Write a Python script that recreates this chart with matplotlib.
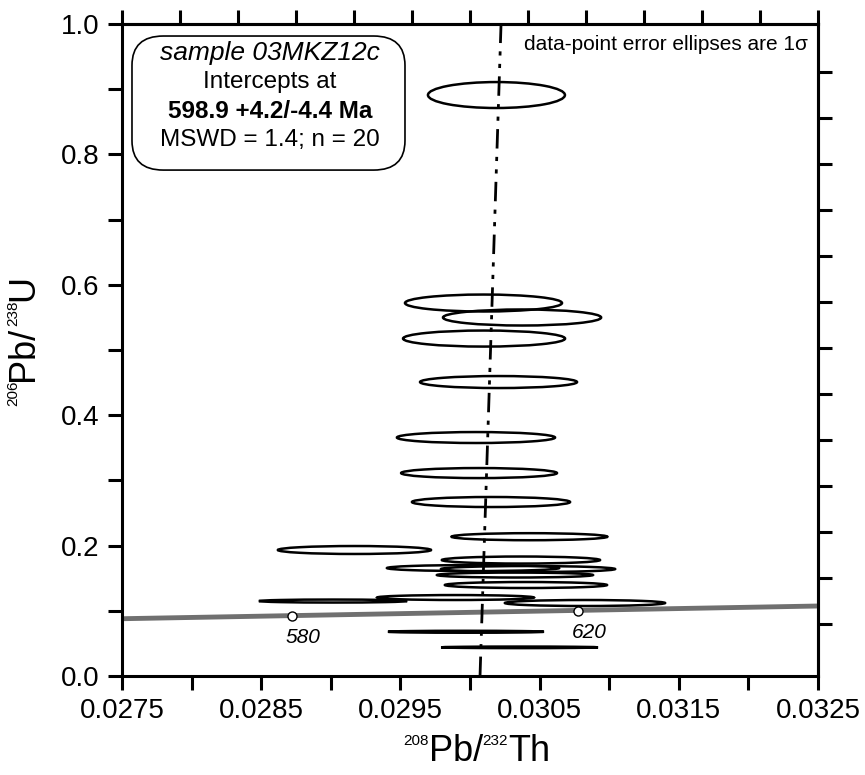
import numpy as np
import matplotlib
matplotlib.use('Agg')
import matplotlib.pyplot as plt
from matplotlib.patches import Ellipse, FancyBboxPatch

plt.rcParams['font.family'] = ['Liberation Sans', 'DejaVu Sans']

# data-point ellipses: centre (Th ratio, U ratio) and 1 sigma half-axes
th_ratio = [0.030190, 0.030097, 0.030374, 0.030101, 0.030205, 0.030043, 0.030065,
            0.030151, 0.030427, 0.029170, 0.030366, 0.030022, 0.030417, 0.030323,
            0.030402, 0.029896, 0.029016, 0.030826, 0.029971, 0.030356]
u_ratio = [0.8911, 0.5721, 0.5499, 0.5176, 0.4509, 0.3658, 0.3113,
           0.2669, 0.2137, 0.1933, 0.1779, 0.1656, 0.1641, 0.1549,
           0.1396, 0.1204, 0.1150, 0.1120, 0.0679, 0.0440]
th_err = [0.000492, 0.000564, 0.000568, 0.000582, 0.000564, 0.000568, 0.000560,
          0.000568, 0.000560, 0.000550, 0.000568, 0.000618, 0.000625, 0.000560,
          0.000582, 0.000564, 0.000532, 0.000575, 0.000560, 0.000564]
u_err = [0.0199, 0.0130, 0.0123, 0.0123, 0.0092, 0.0084, 0.0077,
         0.0077, 0.0054, 0.0061, 0.0054, 0.0046, 0.0046, 0.0038,
         0.0046, 0.0038, 0.0023, 0.0046, 0.0015, 0.0012]

# concordia curve and age marks
conc_x = [0.0275, 0.0325]
conc_y = [0.0879, 0.1074]
age_labels = ['580', '620']
age_x = [0.028721, 0.030774]
age_y = [0.0925, 0.1002]

# intercept line
icpt_x = [0.030072, 0.030223]
icpt_y = [0.0, 1.0]

fig = plt.figure(figsize=(8.65, 7.75), dpi=100)
ax = fig.add_axes([0.1410, 0.1277, 0.8047, 0.8413])
ax.set_xlim(0.0275, 0.0325)
ax.set_ylim(0.0, 1.0)

ax.plot(conc_x, conc_y, color='#707070', lw=3.5, zorder=2, solid_capstyle='butt')
ax.plot(age_x, age_y, 'o', ms=6.5, mfc='white', mec='black', mew=1.0, zorder=5)
for lab, x, y in zip(age_labels, age_x, age_y):
    ax.text(x + 0.00008, y - 0.034, lab, fontsize=15, style='italic',
            ha='center', va='center')

for x, y, w, h in zip(th_ratio, u_ratio, th_err, u_err):
    ax.add_patch(Ellipse((x, y), 2 * w, 2 * h, fill=False, ec='black', lw=1.8, zorder=3))

ax.plot(icpt_x, icpt_y, color='black', lw=2.0, dashes=(7, 3, 1.5, 3, 1.5, 3), zorder=4)

# text box
ax.add_patch(FancyBboxPatch((0.0144, 0.776), 0.3922, 0.2056,
                            boxstyle='round,pad=0,rounding_size=0.045',
                            transform=ax.transAxes, fc='white', ec='black', lw=1.2, zorder=6))
cx = 0.2125
ax.text(cx, 0.9555, 'sample 03MKZ12c', style='italic', fontsize=19,
        ha='center', va='center', transform=ax.transAxes, zorder=7)
ax.text(cx, 0.911, 'Intercepts at', fontsize=17.5,
        ha='center', va='center', transform=ax.transAxes, zorder=7)
ax.text(cx, 0.8666, '598.9 +4.2/-4.4 Ma', fontweight='bold', fontsize=17.5,
        ha='center', va='center', transform=ax.transAxes, zorder=7)
ax.text(cx, 0.822, 'MSWD = 1.4; n = 20', fontsize=17.5,
        ha='center', va='center', transform=ax.transAxes, zorder=7)

ax.text(0.985, 0.968, 'data-point error ellipses are 1\u03c3', fontsize=15,
        ha='right', va='center', transform=ax.transAxes)

# axes styling
for s in ax.spines.values():
    s.set_linewidth(2.2)
ax.set_xticks(np.arange(0.0275, 0.03251, 0.0005))
ax.set_xticklabels(['0.0275', '', '0.0285', '', '0.0295', '', '0.0305', '', '0.0315', '', '0.0325'])
ax.set_yticks(np.arange(0, 1.01, 0.1))
ax.set_yticklabels(['0.0', '', '0.2', '', '0.4', '', '0.6', '', '0.8', '', '1.0'])
ax.tick_params(direction='out', length=10, width=2.2, labelsize=20, pad=6)

top = ax.secondary_xaxis('top')
top.set_xticks(np.linspace(0.0275, 0.0325, 13))
top.tick_params(direction='out', length=10, width=2.2, labeltop=False)
top.spines['top'].set_linewidth(2.2)
right = ax.secondary_yaxis('right')
right.set_yticks(np.arange(0.0798, 0.96, 0.0705))
right.tick_params(direction='out', length=10, width=2.2, labelright=False)
right.spines['right'].set_linewidth(2.2)

# axis titles with small superscript mass numbers
big, small = 26, 11
t1 = fig.text(403 / 865, 1 - 734 / 775, '208', fontsize=small, ha='left', va='top')
t2 = ax.annotate('Pb/', xy=(1, 1), xycoords=t1, fontsize=big, ha='left', va='top',
                 annotation_clip=False)
t3 = ax.annotate('232', xy=(1, 1), xycoords=t2, fontsize=small, ha='left', va='top',
                 annotation_clip=False)
ax.annotate('Th', xy=(1, 1), xycoords=(t3, t2), fontsize=big, ha='left', va='top',
            annotation_clip=False)

s1 = fig.text(6 / 865, 1 - 406 / 775, '206', fontsize=small, rotation=90,
              ha='left', va='bottom')
s2 = ax.annotate('Pb/', xy=(0, 1), xycoords=s1, fontsize=big, rotation=90,
                 ha='left', va='bottom', annotation_clip=False)
s3 = ax.annotate('238', xy=(0, 1), xycoords=s2, fontsize=small, rotation=90,
                 ha='left', va='bottom', annotation_clip=False)
ax.annotate('U', xy=(0, 1), xycoords=(s2, s3), fontsize=big, rotation=90,
            ha='left', va='bottom', annotation_clip=False)

fig.savefig('out.png', dpi=100)
